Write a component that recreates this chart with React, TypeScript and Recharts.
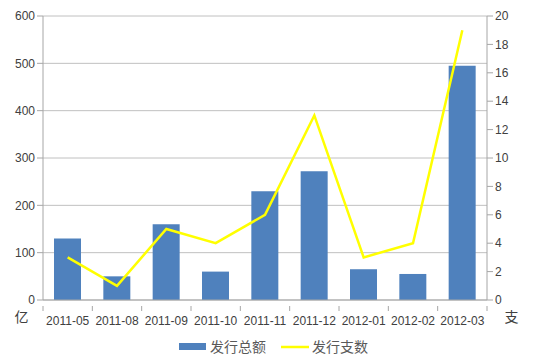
import {
  Bar,
  CartesianGrid,
  ComposedChart,
  Label,
  Legend,
  Line,
  XAxis,
  YAxis,
} from "recharts";

const months = [
  "2011-05",
  "2011-08",
  "2011-09",
  "2011-10",
  "2011-11",
  "2011-12",
  "2012-01",
  "2012-02",
  "2012-03",
];
const totalAmount = [130, 50, 160, 60, 230, 272, 65, 55, 495];
const issueCount = [3, 1, 5, 4, 6, 13, 3, 4, 19];
const leftTicks = [0, 100, 200, 300, 400, 500, 600];
const rightTicks = [0, 2, 4, 6, 8, 10, 12, 14, 16, 18, 20];

const data = months.map((m, i) => ({
  name: m,
  amount: totalAmount[i],
  count: issueCount[i],
}));

const font = "'Liberation Sans', sans-serif";
const cjk = "'Noto Sans CJK SC', sans-serif";
const tickStyle = { fontSize: 12, fill: "#404040", fontFamily: font };
const unitStyle = { fontSize: 14, fill: "#404040", fontFamily: cjk };

// half of one category band: plot is 444px wide for 9 months
const halfBand = 444 / months.length / 2;

const CategoryTick = ({ x, y, payload, index }: any) => (
  <g>
    <line x1={x - halfBand} x2={x - halfBand} y1={y} y2={y + 5} stroke="#a6a6a6" />
    {index === months.length - 1 && (
      <line x1={x + halfBand} x2={x + halfBand} y1={y} y2={y + 5} stroke="#a6a6a6" />
    )}
    <text x={x} y={y + 19} textAnchor="middle" {...tickStyle}>
      {payload.value}
    </text>
  </g>
);

const LegendContent = () => (
  <svg width={536} height={28} style={{ overflow: "visible" }}>
    <rect x={179} y={13} width={27} height={7} fill="#4F81BD" />
    <text x={210} y={22} fontSize={14} fill="#595959" fontFamily={cjk}>
      发行总额
    </text>
    <line x1={281} x2={309} y1={17} y2={17} stroke="#FFFF00" strokeWidth={2.5} />
    <text x={312} y={22} fontSize={14} fill="#595959" fontFamily={cjk}>
      发行支数
    </text>
  </svg>
);

export default function App() {
  return (
    <div style={{ position: "absolute", left: 0, top: 0, background: "#fff" }}>
      <ComposedChart
        width={536}
        height={359}
        data={data}
        margin={{ top: 16, right: 0, bottom: 1, left: 0 }}
      >
        <CartesianGrid vertical={false} stroke="#c0c0c0" yAxisId="left" />
        <XAxis
          dataKey="name"
          tick={<CategoryTick />}
          tickLine={false}
          axisLine={{ stroke: "#a6a6a6" }}
          height={30}
          tickMargin={0}
          interval={0}
        />
        <YAxis
          yAxisId="left"
          domain={[0, 600]}
          ticks={leftTicks}
          width={43}
          tick={tickStyle}
          tickLine={{ stroke: "#a6a6a6" }}
          tickSize={6}
          axisLine={{ stroke: "#a6a6a6" }}
        >
          <Label value="亿" position="bottom" offset={12} style={unitStyle} />
        </YAxis>
        <YAxis
          yAxisId="right"
          orientation="right"
          domain={[0, 20]}
          ticks={rightTicks}
          width={49}
          tick={tickStyle}
          tickLine={{ stroke: "#a6a6a6" }}
          tickSize={6}
          axisLine={{ stroke: "#a6a6a6" }}
        >
          <Label value="支" position="bottom" offset={12} style={unitStyle} />
        </YAxis>
        <Bar
          yAxisId="left"
          dataKey="amount"
          name="发行总额"
          fill="#4F81BD"
          barSize={27}
          isAnimationActive={false}
        />
        <Line
          yAxisId="right"
          dataKey="count"
          name="发行支数"
          stroke="#FFFF00"
          strokeWidth={2.5}
          dot={false}
          activeDot={false}
          isAnimationActive={false}
        />
        <Legend verticalAlign="bottom" height={28} content={<LegendContent />} />
      </ComposedChart>
    </div>
  );
}
